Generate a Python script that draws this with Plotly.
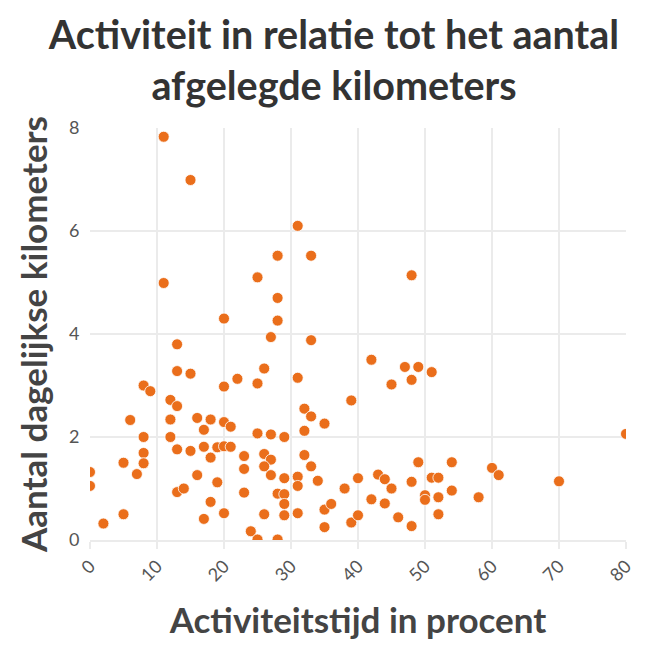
import plotly.graph_objects as go

# Activiteitstijd (%) en dagelijkse kilometers
activiteit = [
    11, 15, 11, 20, 28, 25, 28, 28, 27, 31, 28, 33, 48, 33,
    13, 13, 15, 26, 22, 25, 20, 8, 9, 12, 13, 6, 12, 16, 18, 17, 20, 21,
    8, 12, 25, 27, 13, 15, 17, 19, 20, 21, 18, 8, 8, 5, 7, 0, 0,
    23, 23, 26, 27, 26, 27, 16, 19, 13, 14, 23, 28, 18, 5, 2, 17, 20, 26,
    24, 25, 28,
    42, 47, 49, 51, 31, 48, 45, 39,
    32, 33, 35, 29, 32, 32, 33, 29, 31, 31, 34, 29, 29, 29, 31, 35, 36,
    35, 38, 40, 39, 40, 42, 43, 44, 45, 44, 46, 48, 48, 49, 50, 50, 51,
    52, 52, 52, 54, 54, 58, 60, 61, 70, 80,
]
kilometers = [
    7.83, 6.99, 4.99, 4.30, 5.52, 5.10, 4.70, 4.26, 3.94, 6.10, 5.52, 5.52, 5.14, 3.88,
    3.80, 3.28, 3.23, 3.33, 3.13, 3.04, 2.98, 3.00, 2.89, 2.72, 2.60, 2.33, 2.34, 2.37,
    2.34, 2.14, 2.29, 2.20,
    2.00, 2.00, 2.07, 2.05, 1.76, 1.73, 1.81, 1.80, 1.82, 1.81, 1.60, 1.69, 1.49, 1.50,
    1.28, 1.32, 1.05,
    1.63, 1.38, 1.67, 1.56, 1.43, 1.26, 1.26, 1.12, 0.93, 1.00, 0.92, 0.90, 0.74, 0.50,
    0.32, 0.41, 0.52, 0.50,
    0.17, 0.01, 0.01,
    3.50, 3.36, 3.36, 3.26, 3.15, 3.11, 3.02, 2.71,
    2.55, 2.40, 2.26, 2.00, 2.12, 1.65, 1.43, 1.20, 1.23, 1.05, 1.15, 0.89, 0.70, 0.48,
    0.52, 0.59, 0.70,
    0.25, 1.00, 1.20, 0.34, 0.48, 0.79, 1.27, 1.18, 1.00, 0.71, 0.44, 0.27, 1.13, 1.51,
    0.87, 0.78, 1.21,
    1.21, 0.83, 0.50, 1.51, 0.96, 0.83, 1.40, 1.26, 1.14, 2.06,
]

x_ticks = [0, 10, 20, 30, 40, 50, 60, 70, 80]
y_ticks = [0, 2, 4, 6, 8]

fig = go.Figure(go.Scatter(
    x=activiteit, y=kilometers, mode="markers",
    marker=dict(color="#EA6E1B", size=11, line=dict(color="white", width=0.8)),
    hoverinfo="x+y",
))

# the page body keeps its 8px default margin, so the figure is a bit smaller
fig.update_layout(
    width=652, height=661,
    paper_bgcolor="white", plot_bgcolor="white",
    font=dict(family="Lato", color="#555"),
    margin=dict(l=82, r=34, t=120, b=129, autoexpand=False),
    showlegend=False,
    title=dict(
        text="<b>Activiteit in relatie tot het aantal<br>afgelegde kilometers</b>",
        x=0.5, xanchor="center", y=0.938, yanchor="bottom",
        font=dict(family="Lato", size=39.5, color="#333"),
    ),
)

fig.update_xaxes(
    range=[0, 80], tickvals=x_ticks, tickangle=-45,
    tickfont=dict(size=18, color="#555"),
    showgrid=True, gridcolor="#EBEBEB", gridwidth=1.5,
    zeroline=False, showline=True, linecolor="#EBEBEB", linewidth=1.5,
    ticks="outside", ticklen=7, tickcolor="#EBEBEB", tickwidth=1.5,
    automargin=False,
    title=dict(text="<b>Activiteitstijd in procent</b>",
               font=dict(size=35, color="#444"), standoff=24),
)
fig.update_yaxes(
    range=[0, 8], tickvals=y_ticks,
    tickfont=dict(size=18, color="#555"),
    showgrid=True, gridcolor="#EBEBEB", gridwidth=1.5,
    zeroline=False, showline=False,
    ticks="outside", ticklen=6, tickcolor="white",
    automargin=False,
    title=dict(text="<b>Aantal dagelijkse kilometers</b>",
               font=dict(size=35, color="#444"), standoff=10),
)

fig.write_html("out.html")
